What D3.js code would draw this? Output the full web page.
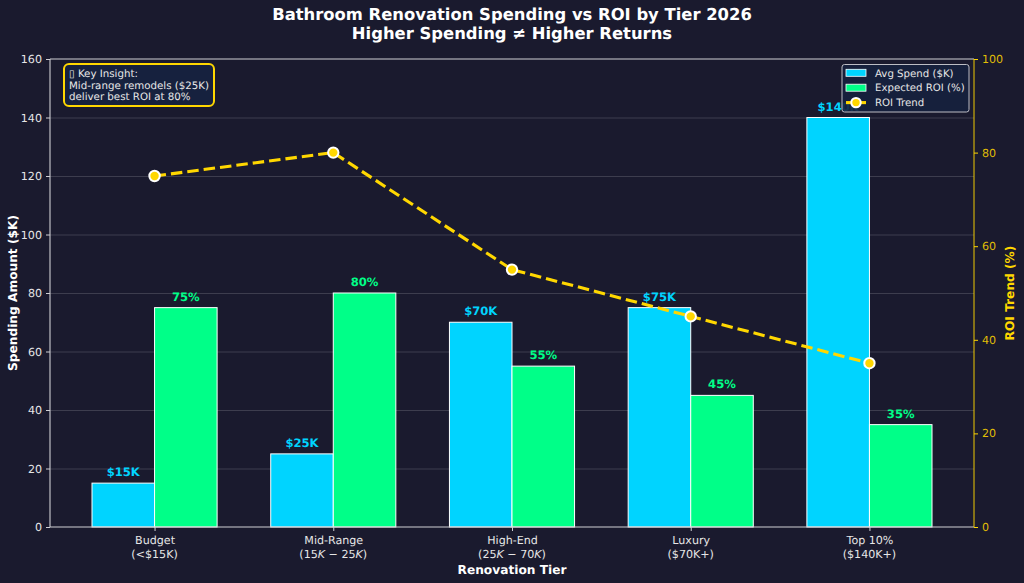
<!DOCTYPE html>
<html>
<head>
<meta charset="utf-8">
<script src="https://cdn.jsdelivr.net/npm/d3@7"></script>
<style>
html,body{margin:0;padding:0;background:#1a1a2e;}
svg{display:block;font-family:"DejaVu Sans",sans-serif;text-rendering:geometricPrecision;}
</style>
</head>
<body>
<svg id="chart" width="1024" height="583"></svg>
<script>
const tiers = ["Budget","Mid-Range","High-End","Luxury","Top 10%"];
const tierRanges = [["(<$15K)"],["(15","K"," − 25","K",")"],["(25","K"," − 70","K",")"],["($70K+)"],["($140K+)"]];
const avgSpend = [15,25,70,75,140];
const expectedRoi = [75,80,55,45,35];
const spendTicks = [0,20,40,60,80,100,120,140,160];
const roiTicks = [0,20,40,60,80,100];

const cyan = "#00d4ff", green = "#00ff88", gold = "#ffd700";
const axisGray = "#cfcfd4", tickText = "#e6e6e6";
const plotLeft = 50, plotRight = 974, plotTop = 59, plotBottom = 527;
const barW = 0.35;

const svg = d3.select("#chart");
const x = d3.scaleLinear().domain([-0.585,4.585]).range([plotLeft,plotRight]);
const y = d3.scaleLinear().domain([0,160]).range([plotBottom,plotTop]);
const yR = d3.scaleLinear().domain([0,100]).range([plotBottom,plotTop]);

// Horizontal grid
svg.append("g").selectAll("line").data(spendTicks.slice(1,-1)).join("line")
  .attr("x1",plotLeft).attr("x2",plotRight)
  .attr("y1",d=>y(d)+.5).attr("y2",d=>y(d)+.5)
  .attr("stroke","#fff").attr("stroke-opacity",.2).attr("stroke-width",.8);

// Paired bars
const bars = svg.append("g").attr("stroke","#fff").attr("stroke-width",1);
bars.selectAll(".spend").data(avgSpend).join("rect").attr("class","spend")
  .attr("x",(d,i)=>x(i-barW)).attr("width",x(barW)-x(0))
  .attr("y",d=>y(d)).attr("height",d=>plotBottom-y(d)).attr("fill",cyan);
bars.selectAll(".roi").data(expectedRoi).join("rect").attr("class","roi")
  .attr("x",(d,i)=>x(i)).attr("width",x(barW)-x(0))
  .attr("y",d=>y(d)).attr("height",d=>plotBottom-y(d)).attr("fill",green);

// Value labels
const valueLabels = svg.append("g").attr("font-size",11.6).attr("font-weight","bold").attr("text-anchor","middle");
valueLabels.selectAll(".vs").data(avgSpend).join("text").attr("class","vs")
  .attr("x",(d,i)=>x(i-barW/2)).attr("y",d=>y(d)-7).attr("fill",cyan).text(d=>`$${d}K`);
valueLabels.selectAll(".vr").data(expectedRoi).join("text").attr("class","vr")
  .attr("x",(d,i)=>x(i+barW/2)).attr("y",d=>y(d)-7).attr("fill",green).text(d=>`${d}%`);

// ROI trend on the secondary scale
const line = d3.line().x((d,i)=>x(i)).y(d=>yR(d));
svg.append("path").datum(expectedRoi).attr("d",line).attr("fill","none")
  .attr("stroke",gold).attr("stroke-width",3.1).attr("stroke-dasharray","11.5,5");
svg.append("g").selectAll("circle").data(expectedRoi).join("circle")
  .attr("cx",(d,i)=>x(i)).attr("cy",d=>yR(d)).attr("r",5.2)
  .attr("fill",gold).attr("stroke","#fff").attr("stroke-width",2);

// Frame: light on three sides, gold on the right
const frame = svg.append("g").attr("stroke-width",1.1);
frame.append("line").attr("x1",plotLeft).attr("x2",plotRight).attr("y1",plotTop).attr("y2",plotTop).attr("stroke",axisGray);
frame.append("line").attr("x1",plotLeft).attr("x2",plotRight).attr("y1",plotBottom).attr("y2",plotBottom).attr("stroke",axisGray);
frame.append("line").attr("x1",plotLeft).attr("x2",plotLeft).attr("y1",plotTop).attr("y2",plotBottom).attr("stroke",axisGray);
frame.append("line").attr("x1",plotRight).attr("x2",plotRight).attr("y1",plotTop).attr("y2",plotBottom).attr("stroke",gold).attr("stroke-opacity",.85);

// Axes
const axL = svg.append("g").attr("transform",`translate(${plotLeft},0)`)
  .call(d3.axisLeft(y).tickValues(spendTicks).tickSize(4).tickPadding(4));
axL.select(".domain").remove();
axL.selectAll("line").attr("stroke",axisGray);
axL.selectAll("text").attr("fill",tickText).attr("font-size",11.1).attr("font-family","DejaVu Sans");

const axR = svg.append("g").attr("transform",`translate(${plotRight},0)`)
  .call(d3.axisRight(yR).tickValues(roiTicks).tickSize(4).tickPadding(4));
axR.select(".domain").remove();
axR.selectAll("line").attr("stroke",gold);
axR.selectAll("text").attr("fill",gold).attr("fill-opacity",.88).attr("font-size",11.1).attr("font-family","DejaVu Sans");

const axB = svg.append("g").attr("transform",`translate(0,${plotBottom})`)
  .call(d3.axisBottom(x).tickValues(d3.range(tiers.length)).tickSize(4).tickFormat(i=>tiers[i]).tickPadding(5));
axB.select(".domain").remove();
axB.selectAll("line").attr("stroke",axisGray);
axB.selectAll("text").attr("fill",tickText).attr("font-size",11.1).attr("font-family","DejaVu Sans");

// Second row of each category label; the K in the mid tiers is set in italics
const ranges = svg.append("g").attr("font-size",11.1).attr("fill",tickText).attr("text-anchor","middle");
tierRanges.forEach((parts,i)=>{
  const t = ranges.append("text").attr("x",x(i)).attr("y",557.5);
  parts.forEach(p=>t.append("tspan").attr("font-style",p==="K"?"italic":"normal").text(p));
});

// Titles
const title = svg.append("g").attr("fill","#fff").attr("font-weight","bold").attr("text-anchor","middle");
title.append("text").attr("x",512).attr("y",20).attr("font-size",16.4).text("Bathroom Renovation Spending vs ROI by Tier 2026");
title.append("text").attr("x",512).attr("y",39).attr("font-size",16.4).text("Higher Spending ≠ Higher Returns");

svg.append("text").attr("x",512).attr("y",574).attr("text-anchor","middle").attr("fill","#fff")
  .attr("font-size",12.2).attr("font-weight","bold").text("Renovation Tier");
svg.append("text").attr("transform",`translate(17,${(plotTop+plotBottom)/2}) rotate(-90)`).attr("text-anchor","middle")
  .attr("fill","#fff").attr("font-size",12.2).attr("font-weight","bold").text("Spending Amount ($K)");
svg.append("text").attr("transform",`translate(1014,${(plotTop+plotBottom)/2}) rotate(-90)`).attr("text-anchor","middle")
  .attr("fill",gold).attr("font-size",12.2).attr("font-weight","bold").text("ROI Trend (%)");

// Insight callout
const note = svg.append("g");
note.append("rect").attr("x",64).attr("y",64).attr("width",150).attr("height",42).attr("rx",5)
  .attr("fill","#16213e").attr("stroke",gold).attr("stroke-width",2);
const noteLines = ["▯ Key Insight:","Mid-range remodels ($25K)","deliver best ROI at 80%"];
note.selectAll("text").data(noteLines).join("text")
  .attr("x",69).attr("y",(d,i)=>77+i*11.6).attr("font-size",10.25).attr("fill","#e8e8e8").text(d=>d);

// Legend
const legend = svg.append("g");
legend.append("rect").attr("x",842).attr("y",64.5).attr("width",127).attr("height",47.5).attr("rx",2.5)
  .attr("fill","#16213e").attr("fill-opacity",.9).attr("stroke","#bdbdc4").attr("stroke-width",1);
const legendRows = [["Avg Spend ($K)",cyan],["Expected ROI (%)",green],["ROI Trend",gold]];
legendRows.forEach(([label,color],i)=>{
  const cy = 72.8+i*14.9;
  if(i<2){
    legend.append("rect").attr("x",846).attr("y",cy-3.5).attr("width",20).attr("height",7)
      .attr("fill",color).attr("stroke","#fff").attr("stroke-width",.8);
  } else {
    legend.append("line").attr("x1",846).attr("x2",866).attr("y1",cy).attr("y2",cy)
      .attr("stroke",color).attr("stroke-width",3.1);
    legend.append("circle").attr("cx",856).attr("cy",cy).attr("r",4.7)
      .attr("fill",color).attr("stroke","#fff").attr("stroke-width",2);
  }
  legend.append("text").attr("x",875).attr("y",cy+3.7).attr("font-size",10.2).attr("fill","#e6e6e6").text(label);
});
</script>
</body>
</html>
